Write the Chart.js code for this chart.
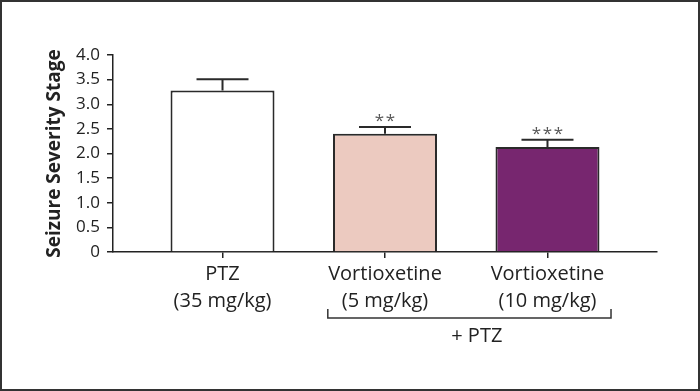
<!DOCTYPE html>
<html>
<head>
<meta charset="utf-8">
<script src="https://cdn.jsdelivr.net/npm/chart.js@4/dist/chart.umd.min.js"></script>
<style>
  html, body { margin: 0; padding: 0; background: #ffffff; }
  #wrap { width: 700px; height: 391px; position: relative; }
</style>
</head>
<body>
<div id="wrap"><canvas id="c" width="700" height="391"></canvas></div>
<script>
// ---- data ----
const categories = [
  ["PTZ", "(35 mg/kg)"],
  ["Vortioxetine", "(5 mg/kg)"],
  ["Vortioxetine", "(10 mg/kg)"]
];
const means = [3.28, 2.40, 2.13];
const sems = [0.23, 0.14, 0.15];
const significance = ["", "**", "***"];
const groupLabel = "+ PTZ";
const yTickValues = [0, 0.5, 1, 1.5, 2, 2.5, 3, 3.5, 4];
const yTickLabels = ["0", "0.5", "1.0", "1.5", "2.0", "2.5", "3.0", "3.5", "4.0"];
const yTitle = "Seizure Severity Stage";

const barColors = ["#ffffff", "#eccac0", "#77266f"];
const FONT = "'Open Sans', 'DejaVu Sans', sans-serif";
const INK = "#222222";

const extras = {
  id: "extras",
  beforeDraw(chart) {
    const ctx = chart.ctx;
    ctx.save();
    ctx.fillStyle = "#ffffff";
    ctx.fillRect(0, 0, chart.width, chart.height);
    ctx.restore();
  },
  afterDatasetsDraw(chart) {
    const ctx = chart.ctx;
    const xs = chart.scales.x, ys = chart.scales.y;
    const meta = chart.getDatasetMeta(0);
    ctx.save();
    ctx.strokeStyle = "#2a2a2a";
    ctx.lineWidth = 2;
    means.forEach((m, i) => {
      const x = meta.data[i].x;
      const yb = ys.getPixelForValue(m);
      const yt = ys.getPixelForValue(m + sems[i]);
      ctx.beginPath();
      ctx.moveTo(x, yb);
      ctx.lineTo(x, yt);
      ctx.moveTo(x - 26, yt);
      ctx.lineTo(x + 26, yt);
      ctx.stroke();
      if (significance[i]) {
        ctx.fillStyle = "#555555";
        ctx.font = "17px " + FONT;
        ctx.textAlign = "center";
        ctx.textBaseline = "middle";
        ctx.fillText(significance[i].split("").join("\u200A"), x, yt - 6);
      }
    });
    // bracket
    const bl = xs.getPixelForValue(0.648);
    const br = xs.getPixelForValue(2.391);
    const by = 318, bt = 309;
    ctx.strokeStyle = "#333333";
    ctx.lineWidth = 1.5;
    ctx.beginPath();
    ctx.moveTo(bl, bt);
    ctx.lineTo(bl, by);
    ctx.lineTo(br, by);
    ctx.lineTo(br, bt);
    ctx.stroke();
    ctx.fillStyle = INK;
    ctx.font = "20px " + FONT;
    ctx.textAlign = "center";
    ctx.textBaseline = "middle";
    ctx.fillText(groupLabel, xs.getPixelForValue(1.565), 336);
    // frame
    ctx.strokeStyle = "#333333";
    ctx.lineWidth = 2;
    ctx.strokeRect(1, 1, chart.width - 2, chart.height - 2);
    ctx.restore();
  }
};

new Chart(document.getElementById("c"), {
  type: "bar",
  data: {
    datasets: [{
      data: means.map((v, i) => ({ x: i, y: v })),
      backgroundColor: barColors,
      borderColor: "#2a2a2a",
      borderWidth: 2,
      borderSkipped: "start",
      barPercentage: 0.64,
      categoryPercentage: 1
    }]
  },
  options: {
    responsive: false,
    animation: false,
    devicePixelRatio: 1,
    layout: { padding: { left: 0, right: 43, top: 55, bottom: 0 } },
    plugins: { legend: { display: false }, tooltip: { enabled: false } },
    scales: {
      x: {
        type: "linear",
        offset: false,
        min: -0.674,
        max: 2.674,
        afterBuildTicks: s => { s.ticks = categories.map((c, i) => ({ value: i })); },
        afterFit: s => { s.height = 391 - 252; },
        ticks: {
          callback: (v) => categories[v] || "",
          color: INK,
          font: { family: FONT, size: 20, lineHeight: 1.33 },
          padding: 3,
          maxRotation: 0,
          autoSkip: false
        },
        grid: { display: true, offset: false, drawOnChartArea: false, drawTicks: true, tickLength: 6, color: INK, lineWidth: 1.5 },
        border: { display: true, color: INK, width: 1.5 }
      },
      y: {
        min: 0,
        max: 4,
        afterBuildTicks: s => { s.ticks = yTickValues.map(v => ({ value: v })); },
        afterFit: s => { s.width = 113; },
        ticks: {
          callback: (v) => { const k = yTickValues.indexOf(v); return k >= 0 ? yTickLabels[k] : ""; },
          color: INK,
          font: { family: FONT, size: 17 },
          padding: 7
        },
        grid: { display: true, drawOnChartArea: false, drawTicks: true, tickLength: 6, color: INK, lineWidth: 1.5 },
        border: { display: true, color: INK, width: 1.5 },
        title: {
          display: true,
          text: yTitle,
          color: INK,
          font: { family: FONT, size: 19, weight: "bold", lineHeight: 1.2 },
          padding: { top: 43, bottom: 0 }
        }
      }
    }
  },
  plugins: [extras]
});
</script>
</body>
</html>
